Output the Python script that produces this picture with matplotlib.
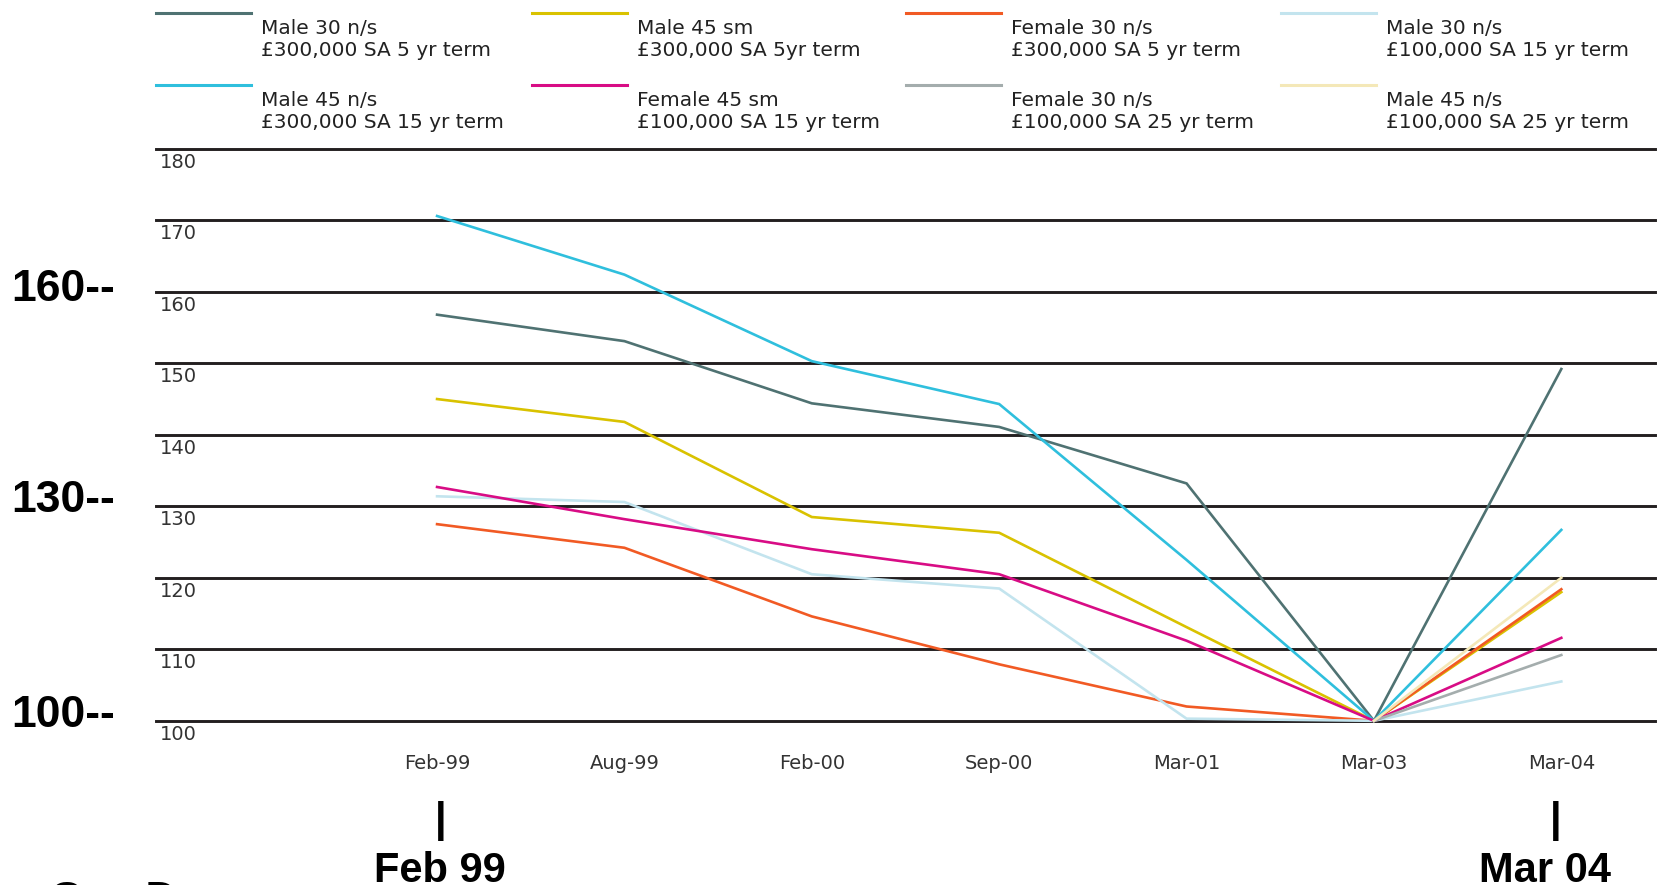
import numpy as np
import matplotlib
matplotlib.use("Agg")
import matplotlib.pyplot as plt
from matplotlib.lines import Line2D
from matplotlib.transforms import (blended_transform_factory, offset_copy,
                                   ScaledTranslation)

# ---- data -------------------------------------------------------------
categories = ["Feb-99", "Aug-99", "Feb-00", "Sep-00", "Mar-01", "Mar-03", "Mar-04"]
nan = np.nan

male30_ns_300k_5yr = [156.8, 153.1, 144.4, 141.1, 133.2, 100.0, 149.2]
male45_sm_300k_5yr = [145.0, 141.8, 128.5, 126.3, 113.1, 100.0, 118.0]
female30_ns_300k_5yr = [127.5, 124.2, 114.6, 107.9, 102.0, 100.0, 118.4]
male30_ns_100k_15yr = [131.4, 130.6, 120.5, 118.5, 100.3, 100.0, 105.5]
male45_ns_300k_15yr = [170.6, 162.4, 150.3, 144.3, 122.5, 100.0, 126.7]
female45_sm_100k_15yr = [132.7, 128.2, 124.0, 120.5, 111.2, 100.0, 111.6]
female30_ns_100k_25yr = [nan, nan, nan, nan, nan, 100.0, 109.2]
male45_ns_100k_25yr = [nan, nan, nan, nan, nan, 100.0, 120.0]

series_labels = [
    ("Male 30 n/s", "£300,000 SA 5 yr term"),
    ("Male 45 sm", "£300,000 SA 5yr term"),
    ("Female 30 n/s", "£300,000 SA 5 yr term"),
    ("Male 30 n/s", "£100,000 SA 15 yr term"),
    ("Male 45 n/s", "£300,000 SA 15 yr term"),
    ("Female 45 sm", "£100,000 SA 15 yr term"),
    ("Female 30 n/s", "£100,000 SA 25 yr term"),
    ("Male 45 n/s", "£100,000 SA 25 yr term"),
]
series_values = [
    male30_ns_300k_5yr, male45_sm_300k_5yr, female30_ns_300k_5yr,
    male30_ns_100k_15yr, male45_ns_300k_15yr, female45_sm_100k_15yr,
    female30_ns_100k_25yr, male45_ns_100k_25yr,
]
series_colors = ["#4f7272", "#d9c200", "#f15a24", "#c3e4ee",
                 "#2fbfdd", "#d80c85", "#a4adad", "#f4e8b8"]

y_ticks = [100, 110, 120, 130, 140, 150, 160, 170, 180]
side_marks = ["160--", "130--", "100--"]
side_mark_values = [160, 130, 100]
end_marks = ["Feb 99", "Mar 04"]
end_mark_categories = [0, 6]
footer = "Guy D"

# ---- layout -----------------------------------------------------------
W, H = 1667, 885
fig = plt.figure(figsize=(W / 100, H / 100), dpi=100)
fig.patch.set_facecolor("white")


def fx(px):
    return px / W


def fy(py):
    return 1 - py / H


ax_left, ax_right, ax_top, ax_bottom = 156, 1655, 148.8, 720.8
ax = fig.add_axes([fx(ax_left), fy(ax_bottom),
                   (ax_right - ax_left) / W, (ax_bottom - ax_top) / H])
ax.set_facecolor("white")
for sp in ax.spines.values():
    sp.set_visible(False)

x = np.arange(len(categories))
ax.set_xlim(-1.5, 6.5)
ax.set_ylim(100, 180)

small_font = ["DejaVu Sans"]
bold_font = ["Liberation Sans", "DejaVu Sans"]

# horizontal rules
for v in y_ticks:
    ax.axhline(v, color="#231f20", lw=2.1, zorder=1, clip_on=False)

# series lines
for vals, col in zip(series_values, series_colors):
    ax.plot(x, vals, color=col, lw=1.9, zorder=3, clip_on=False,
            solid_joinstyle="miter")

# y tick labels sit just under each rule, inside the plot
ax.set_yticks(y_ticks)
ax.set_yticklabels([str(v) for v in y_ticks], fontsize=14,
                   color="#333333", family=small_font)
ax.tick_params(axis="y", length=0, pad=-3)
down = ScaledTranslation(0, -4 / 100, fig.dpi_scale_trans)
for lbl in ax.get_yticklabels():
    lbl.set_horizontalalignment("left")
    lbl.set_verticalalignment("top")
    lbl.set_transform(lbl.get_transform() + down)

ax.set_xticks(x)
ax.set_xticklabels(categories, fontsize=14, color="#333333", family=small_font)
ax.tick_params(axis="x", length=0, pad=24)

# large side marks
side_offsets = [2, 6, 5]
for txt, v, off in zip(side_marks, side_mark_values, side_offsets):
    tr = offset_copy(blended_transform_factory(fig.transFigure, ax.transData),
                     fig=fig, x=0, y=off, units="dots")
    ax.text(fx(11), v, txt, transform=tr, fontsize=32, fontweight="bold",
            family=bold_font, ha="left", va="center", color="black",
            clip_on=False)

# end marks below the axis
bar_tr = blended_transform_factory(ax.transData, fig.transFigure)
bar_shift = [0.017, -0.028]
text_shift = [0.017, -0.085]
for txt, pos, bs, ts in zip(end_marks, end_mark_categories, bar_shift, text_shift):
    ax.text(pos + bs, fy(821), "|", transform=bar_tr, fontsize=30,
            fontweight="bold", family=bold_font, ha="center", va="center",
            color="black", clip_on=False)
    ax.text(pos + ts, fy(851), txt, transform=bar_tr, fontsize=30,
            fontweight="bold", family=bold_font, ha="center", va="top",
            color="black", clip_on=False)

fig.text(fx(50), fy(880), footer, fontsize=31, fontweight="bold",
         family=bold_font, ha="left", va="top", color="black")

# ---- legend: 4 columns x 2 rows, swatch above-left of two-line label ----
col_x = [156, 531.5, 906, 1281]
row_y = [13, 85]
for i, ((l1, l2), col) in enumerate(zip(series_labels, series_colors)):
    r, c = divmod(i, 4)
    x0 = col_x[c]
    y0 = row_y[r]
    fig.add_artist(Line2D([fx(x0), fx(x0 + 95)], [fy(y0), fy(y0)],
                          transform=fig.transFigure, color=col, lw=2.2))
    fig.text(fx(x0 + 105), fy(y0 + 15), l1, fontsize=14.5, family=small_font,
             color="#222222", ha="left", va="center")
    fig.text(fx(x0 + 105), fy(y0 + 38), l2, fontsize=14.5, family=small_font,
             color="#222222", ha="left", va="center")

fig.savefig("out.png", dpi=100, facecolor="white")
